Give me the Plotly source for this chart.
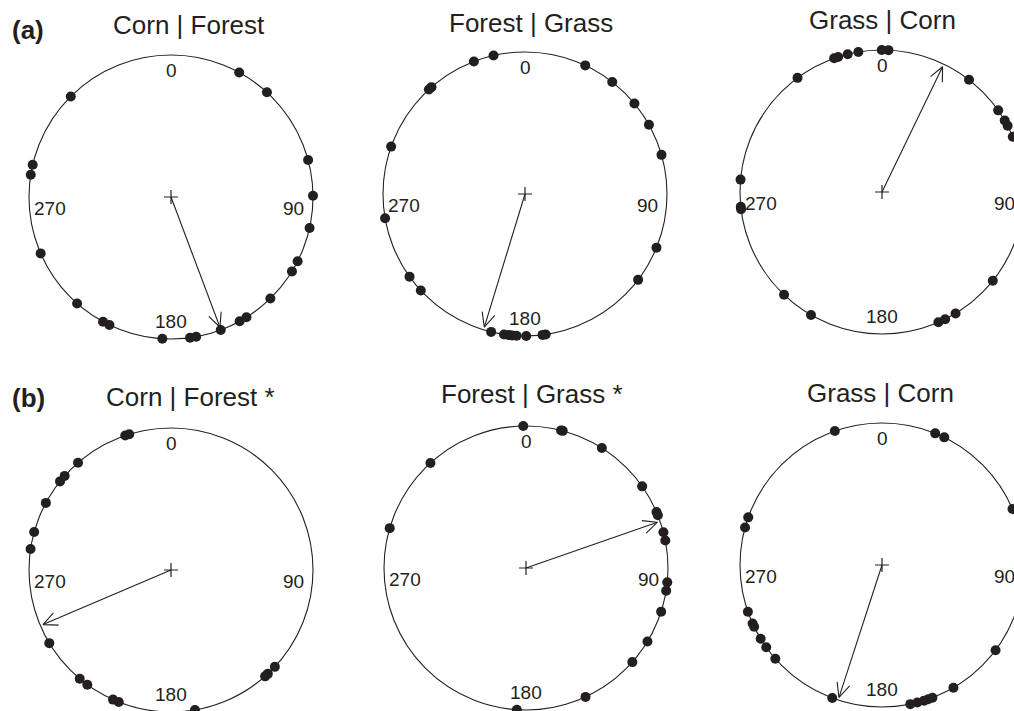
import numpy as np
import plotly.graph_objects as go

# ---------------- data (angles in degrees, clockwise from north) ----------------
titles = ["Corn | Forest", "Forest | Grass", "Grass | Corn",
          "Corn | Forest *", "Forest | Grass *", "Grass | Corn"]
row_labels = ["(a)", "(b)"]
tick_labels = ["0", "90", "180", "270"]

a_corn_forest = [28.7, 42.5, 74.9, 89.5, 102.6, 116.9, 121.6, 135.6, 147.9, 151.1, 159.5,
                 169.8, 172.3, 183.5, 205.7, 208.6, 221.4, 246.6, 279.0, 283.1, 315.1]
a_forest_grass = [347.2, 338.9, 318.8, 317.4, 289.5, 260.2, 234.4, 227.2, 193.8, 188.5, 186.5,
                  185.2, 183.4, 179.5, 172.9, 171.6, 127.2, 112.2, 74.0, 60.8, 50.4, 37.9, 25.1]
a_grass_corn = [359.9, 2.6, 350.4, 346.0, 342.0, 340.3, 323.5, 275.0, 264.0, 263.0, 223.6,
                210.0, 156.6, 153.6, 148.8, 128.7, 37.8, 54.9, 59.8, 62.2, 67.1]
b_corn_forest = [341.2, 342.9, 319.1, 311.5, 308.6, 298.2, 285.5, 278.5, 239.0, 220.0, 216.1,
                 204.1, 201.6, 170.3, 138.5, 137.0, 133.0]
b_forest_grass = [358.9, 14.3, 15.0, 32.3, 54.9, 66.8, 68.2, 75.4, 78.8, 95.8, 99.2, 107.9,
                  121.2, 131.5, 155.2, 183.7, 286.3, 317.7]
b_grass_corn = [340.6, 22.0, 26.0, 66.8, 289.6, 285.3, 250.8, 245.7, 244.2, 238.7, 234.6,
                228.7, 200.5, 168.5, 165.6, 162.8, 161.0, 159.2, 149.8, 126.9]
panel_angles = [a_corn_forest, a_forest_grass, a_grass_corn,
                b_corn_forest, b_forest_grass, b_grass_corn]
mean_directions = [159.4, 197.0, 25.8, 246.9, 70.8, 198.0]

# ---------------- layout constants (pixels) ----------------
W, H = 1014, 711
R = 142.0
centers = [(171, 197), (525, 194), (882, 192), (171, 570), (526, 568), (882, 565)]
col_bounds = [(0, 348), (348, 704), (704, W)]
row_bounds = [(0, 356), (356, H)]
title_pos = [(189, 25), (531, 23), (882, 20), (190, 397), (532, 394), (880, 393)]
row_label_pos = [(28, 30), (28, 398)]
label_offsets = {"0": (0, 0.89), "90": (0.865, -0.08), "180": (0, -0.875), "270": (-0.85, -0.08)}
INK = "#231f20"
FONT = "Liberation Sans, Arial, sans-serif"
ARROW_LEN = 0.98
HEAD_LEN = 0.11
HEAD_ANG = 25.0

fig = go.Figure()
shapes = []
annotations = []
layout_axes = {}

for i in range(6):
    r, c = divmod(i, 3)
    cx, cy = centers[i]
    x0p, x1p = col_bounds[c]
    y0p, y1p = row_bounds[r]
    sfx = "" if i == 0 else str(i + 1)
    xa, ya = "x" + sfx, "y" + sfx
    layout_axes["xaxis" + sfx] = dict(
        domain=[x0p / W, x1p / W], range=[(x0p - cx) / R, (x1p - cx) / R],
        visible=False, fixedrange=True, anchor=ya)
    layout_axes["yaxis" + sfx] = dict(
        domain=[1 - y1p / H, 1 - y0p / H], range=[(cy - y1p) / R, (cy - y0p) / R],
        visible=False, fixedrange=True, anchor=xa)

    # circle
    shapes.append(dict(type="circle", xref=xa, yref=ya, x0=-1, x1=1, y0=-1, y1=1,
                       line=dict(color=INK, width=1.1), layer="below"))

    # data points on circumference
    th = np.radians(np.array(panel_angles[i]))
    fig.add_trace(go.Scatter(x=np.sin(th), y=np.cos(th), mode="markers", xaxis=xa, yaxis=ya,
                             marker=dict(size=10, color=INK, line=dict(width=0)),
                             showlegend=False, hoverinfo="skip"))

    # mean-direction arrow with open head
    m = np.radians(mean_directions[i])
    tx, ty = ARROW_LEN * np.sin(m), ARROW_LEN * np.cos(m)
    back = m + np.pi
    h1 = back + np.radians(HEAD_ANG)
    h2 = back - np.radians(HEAD_ANG)
    ax_ = [0, tx, None, tx + HEAD_LEN * np.sin(h1), tx, tx + HEAD_LEN * np.sin(h2)]
    ay_ = [0, ty, None, ty + HEAD_LEN * np.cos(h1), ty, ty + HEAD_LEN * np.cos(h2)]
    fig.add_trace(go.Scatter(x=ax_, y=ay_, mode="lines", xaxis=xa, yaxis=ya,
                             line=dict(color=INK, width=1.1), showlegend=False, hoverinfo="skip"))

    # centre cross
    fig.add_trace(go.Scatter(x=[0], y=[0], mode="markers", xaxis=xa, yaxis=ya,
                             marker=dict(symbol="cross-thin", size=10, line=dict(color=INK, width=1.2)),
                             showlegend=False, hoverinfo="skip"))

    # compass labels
    for lab in tick_labels:
        ox, oy = label_offsets[lab]
        annotations.append(dict(x=ox, y=oy, xref=xa, yref=ya, text=lab, showarrow=False,
                                font=dict(family=FONT, size=19, color=INK),
                                xanchor="center", yanchor="middle"))

    # titles
    tx_p, ty_p = title_pos[i]
    annotations.append(dict(x=tx_p / W, y=1 - ty_p / H, xref="paper", yref="paper",
                            text=titles[i], showarrow=False,
                            font=dict(family=FONT, size=26, color=INK),
                            xanchor="center", yanchor="middle"))

for k, lab in enumerate(row_labels):
    px, py = row_label_pos[k]
    annotations.append(dict(x=px / W, y=1 - py / H, xref="paper", yref="paper",
                            text="<b>" + lab + "</b>", showarrow=False,
                            font=dict(family=FONT, size=26, color=INK),
                            xanchor="center", yanchor="middle"))

fig.update_layout(width=W, height=H, margin=dict(l=0, r=0, t=0, b=0),
                  paper_bgcolor="white", plot_bgcolor="white",
                  shapes=shapes, annotations=annotations, **layout_axes)

fig.write_html("out.html", config={"displayModeBar": False},
               post_script="document.body.style.margin='0';document.body.style.overflow='hidden';")
